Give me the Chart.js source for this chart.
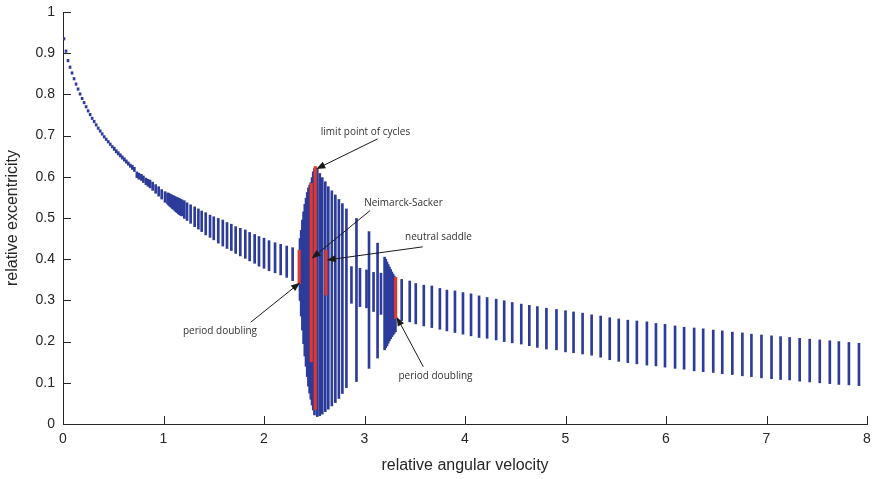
<!DOCTYPE html>
<html>
<head>
<meta charset="utf-8">
<script src="https://cdn.jsdelivr.net/npm/chart.js@4.4.0/dist/chart.umd.min.js"></script>
<style>
  html, body { margin: 0; padding: 0; background: #fff; }
  #wrap { width: 874px; height: 479px; position: relative; }
</style>
</head>
<body>
<div id="wrap"><canvas id="myChart"></canvas></div>
<script>
// blue bars: x position, lower and upper end
const blueX = [
  0.01,0.03,0.05,0.07,0.09,0.11,0.13,0.15,0.17,0.19,0.21,0.23,0.25,0.27,0.29,0.31,0.33,0.35,0.37,0.39,
  0.41,0.43,0.45,0.47,0.49,0.51,0.53,0.55,0.57,0.59,0.61,0.63,0.65,0.67,0.69,0.71,
  0.735,0.755,0.78,0.80,0.825,0.845,0.866,0.892,0.922,0.952,0.982,1.015,
  1.04,1.052,1.064,1.076,1.088,1.10,1.112,1.124,1.136,1.148,1.16,1.172,1.184,
  1.207,1.234,1.27,1.31,1.347,1.38,1.42,1.463,1.50,1.545,1.59,1.632,1.675,1.718,1.764,1.814,1.857,1.907,1.95,
  2.0,2.05,2.11,2.166,2.226,2.285,
  2.358,2.37,2.382,2.394,2.406,2.418,2.43,2.442,2.454,2.466,2.478,2.49,2.502,
  2.53,2.555,2.58,2.61,2.64,2.675,2.71,2.745,2.78,2.82,
  2.87,2.92,2.955,3.02,3.045,3.09,3.13,3.164,3.20,
  3.212,3.224,3.236,3.248,3.26,3.272,3.284,3.296,3.308,
  3.37,3.45,3.51,3.59,3.67,3.75,3.82,3.90,3.98,4.06,4.14,4.22,4.31,4.39,4.47,4.56,4.64,4.72,4.81,4.91,
  5.00,5.08,5.17,5.26,5.35,5.44,5.53,5.62,5.71,5.81,5.90,5.99,6.09,6.18,6.28,6.37,6.47,6.56,6.66,6.76,
  6.85,6.95,7.05,7.14,7.23,7.33,7.43,7.53,7.63,7.72,7.82,7.92
];
const blueLo = [
  0.932,0.902,0.879,0.863,0.849,0.835,0.822,0.810,0.798,0.787,0.777,0.767,0.757,0.748,0.739,0.731,0.723,0.715,0.708,0.701,
  0.694,0.688,0.682,0.676,0.670,0.664,0.658,0.653,0.648,0.643,0.638,0.633,0.628,0.623,0.618,0.613,
  0.598,0.594,0.591,0.586,0.581,0.577,0.573,0.567,0.560,0.553,0.546,0.538,
  0.534,0.531,0.528,0.526,0.523,0.521,0.518,0.515,0.513,0.510,0.508,0.506,0.505,
  0.499,0.494,0.487,0.479,0.473,0.467,0.459,0.453,0.447,0.439,0.432,0.426,0.421,0.414,0.408,0.402,0.396,0.390,0.383,
  0.378,0.372,0.367,0.362,0.356,0.348,
  0.300,0.262,0.228,0.195,0.165,0.140,0.115,0.092,0.075,0.060,0.046,0.034,0.022,
  0.018,0.020,0.024,0.030,0.036,0.044,0.052,0.062,0.074,0.088,
  0.293,0.103,0.285,0.282,0.135,0.273,0.160,0.266,0.180,
  0.185,0.190,0.196,0.202,0.207,0.212,0.216,0.220,0.224,
  0.251,0.248,0.243,0.238,0.234,0.230,0.226,0.222,0.218,0.214,0.210,0.208,0.204,0.200,0.197,0.194,0.190,0.186,0.182,0.180,
  0.175,0.173,0.170,0.167,0.162,0.156,0.152,0.149,0.146,0.143,0.141,0.138,0.135,0.133,0.129,0.127,0.125,0.122,0.120,0.117,
  0.115,0.112,0.110,0.108,0.107,0.104,0.102,0.100,0.098,0.096,0.095,0.093
];
const blueHi = [
  0.938,0.908,0.885,0.869,0.855,0.841,0.828,0.816,0.804,0.793,0.783,0.773,0.763,0.754,0.745,0.737,0.729,0.721,0.714,0.707,
  0.700,0.694,0.688,0.682,0.676,0.672,0.666,0.661,0.656,0.651,0.646,0.641,0.636,0.631,0.628,0.623,
  0.612,0.609,0.606,0.602,0.597,0.594,0.592,0.587,0.581,0.576,0.569,0.564,
  0.561,0.560,0.558,0.557,0.555,0.554,0.552,0.551,0.550,0.548,0.547,0.545,0.544,
  0.542,0.537,0.532,0.527,0.522,0.517,0.513,0.507,0.503,0.499,0.495,0.489,0.485,0.479,0.475,0.471,0.465,0.460,0.455,
  0.451,0.445,0.440,0.436,0.432,0.428,
  0.450,0.470,0.495,0.515,0.533,0.548,0.562,0.573,0.580,0.586,0.598,0.612,0.620,
  0.620,0.608,0.598,0.588,0.576,0.566,0.556,0.545,0.535,0.522,
  0.382,0.499,0.378,0.374,0.467,0.368,0.439,0.366,0.405,
  0.400,0.393,0.387,0.381,0.375,0.369,0.364,0.359,0.355,
  0.351,0.347,0.341,0.337,0.335,0.329,0.325,0.323,0.319,0.316,0.311,0.307,0.303,0.299,0.295,0.291,0.288,0.285,0.281,0.278,
  0.275,0.272,0.269,0.265,0.262,0.258,0.255,0.252,0.250,0.248,0.244,0.242,0.238,0.235,0.233,0.231,0.228,0.226,0.223,0.221,
  0.218,0.216,0.214,0.212,0.210,0.208,0.206,0.204,0.202,0.200,0.198,0.196
];

// red bars (bifurcation points)
const redX  = [2.35, 2.47, 2.51, 2.617, 3.31];
const redLo = [0.340, 0.151, 0.035, 0.313, 0.256];
const redHi = [0.422, 0.584, 0.625, 0.422, 0.356];

const xTicks = [0, 1, 2, 3, 4, 5, 6, 7, 8];
const yTicks = [0, 0.1, 0.2, 0.3, 0.4, 0.5, 0.6, 0.7, 0.8, 0.9, 1];

// annotations: text position, arrow tail, arrow tip
const noteText = ['limit point of cycles', 'Neimarck-Sacker', 'neutral saddle', 'period doubling', 'period doubling'];
const noteX = [3.01, 3.388, 3.736, 1.562, 3.706];
const noteY = [0.709, 0.535, 0.453, 0.226, 0.115];
const tailX = [3.13, 3.055, 3.58, 1.868, 3.585];
const tailY = [0.692, 0.518, 0.43, 0.247, 0.139];
const tipX  = [2.52, 2.475, 2.624, 2.358, 3.32];
const tipY  = [0.619, 0.402, 0.398, 0.343, 0.26];

const blue = '#2d3c9b';
const red = '#e0382d';
const axisCol = '#262626';

Chart.defaults.font.family = '"Liberation Sans", Arial, sans-serif';
Chart.defaults.color = axisCol;

function arrow(ctx, x0, y0, x1, y1) {
  const a = Math.atan2(y1 - y0, x1 - x0);
  const len = 9, w = 3.5;
  ctx.beginPath();
  ctx.moveTo(x0, y0);
  ctx.lineTo(x1 - Math.cos(a) * len * 0.8, y1 - Math.sin(a) * len * 0.8);
  ctx.stroke();
  ctx.beginPath();
  ctx.moveTo(x1, y1);
  ctx.lineTo(x1 - Math.cos(a) * len + Math.sin(a) * w, y1 - Math.sin(a) * len - Math.cos(a) * w);
  ctx.lineTo(x1 - Math.cos(a) * len - Math.sin(a) * w, y1 - Math.sin(a) * len + Math.cos(a) * w);
  ctx.closePath();
  ctx.fill();
}

const extras = {
  id: 'extras',
  afterDraw(chart) {
    const {ctx, chartArea: a, scales: {x, y}} = chart;
    ctx.save();
    // inward tick marks
    ctx.strokeStyle = axisCol;
    ctx.lineWidth = 1;
    ctx.beginPath();
    for (const v of xTicks) {
      const px = Math.round(x.getPixelForValue(v)) + 0.5;
      ctx.moveTo(px, a.bottom);
      ctx.lineTo(px, a.bottom - 8);
    }
    for (const v of yTicks) {
      const py = Math.round(y.getPixelForValue(v)) + 0.5;
      ctx.moveTo(a.left, py);
      ctx.lineTo(a.left + 8, py);
    }
    ctx.stroke();

    // notes
    ctx.fillStyle = '#1a1a1a';
    ctx.strokeStyle = '#1a1a1a';
    for (let i = 0; i < noteText.length; i++) {
      arrow(ctx, x.getPixelForValue(tailX[i]), y.getPixelForValue(tailY[i]),
                 x.getPixelForValue(tipX[i]), y.getPixelForValue(tipY[i]));
    }
    ctx.font = '10px "Open Sans", sans-serif';
    ctx.fillStyle = '#333';
    ctx.textAlign = 'center';
    ctx.textBaseline = 'middle';
    for (let i = 0; i < noteText.length; i++) {
      ctx.fillText(noteText[i], x.getPixelForValue(noteX[i]), y.getPixelForValue(noteY[i]));
    }
    ctx.restore();
  }
};

const ctx = document.getElementById('myChart');

new Chart(ctx, {
  type: 'bar',
  data: {
    datasets: [{
      label: 'bifurcations',
      data: redX.map((v, i) => ({x: v, y: [redLo[i], redHi[i]]})),
      backgroundColor: red,
      barThickness: 2.5,
      grouped: false
    }, {
      label: 'cycles',
      data: blueX.map((v, i) => ({x: v, y: [blueLo[i], blueHi[i]]})),
      backgroundColor: blue,
      barThickness: 2,
      grouped: false
    }]
  },
  options: {
    responsive: true,
    maintainAspectRatio: false,
    animation: false,
    layout: { padding: { left: 0, right: 7, top: 12, bottom: 0 } },
    plugins: { legend: { display: false }, tooltip: { enabled: false } },
    scales: {
      x: {
        type: 'linear',
        min: 0,
        max: 8,
        offset: false,
        afterBuildTicks: s => { s.ticks = xTicks.map(v => ({value: v})); },
        afterFit: s => { s.height = 55; s.paddingLeft = 0; s.paddingRight = 0; },
        grid: { display: false, drawTicks: false },
        border: { display: true, color: axisCol, width: 1 },
        ticks: { padding: 7, font: { size: 14 }, color: axisCol, callback: v => String(v) },
        title: { display: true, text: 'relative angular velocity', font: { size: 16 }, color: axisCol, padding: { top: 0, bottom: 4 } }
      },
      y: {
        min: 0,
        max: 1,
        afterBuildTicks: s => { s.ticks = yTicks.map(v => ({value: v})); },
        afterFit: s => { s.width = 63; s.paddingTop = 0; s.paddingBottom = 0; },
        grid: { display: false, drawTicks: false },
        border: { display: true, color: axisCol, width: 1 },
        ticks: { padding: 8, font: { size: 14 }, color: axisCol, callback: v => String(v) },
        title: { display: true, text: 'relative excentricity', font: { size: 16 }, color: axisCol, padding: { top: 3, bottom: 0 } }
      }
    }
  },
  plugins: [extras]
});
</script>
</body>
</html>
